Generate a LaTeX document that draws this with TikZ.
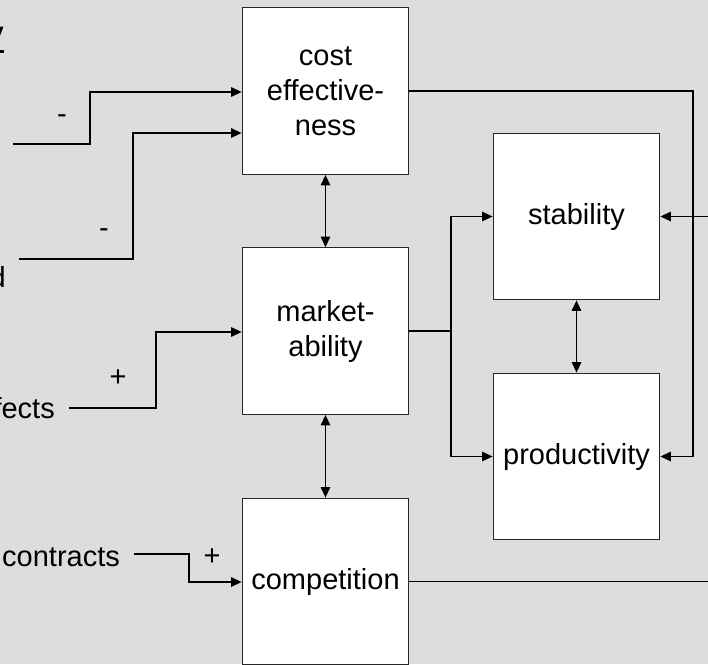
\documentclass[tikz,border=0pt]{standalone}
\usepackage{fontspec}
\setmainfont{Liberation Sans}
\usetikzlibrary{arrows.meta}
\definecolor{bg}{RGB}{221,221,221}
\begin{document}
\begin{tikzpicture}[x=1pt,y=-1pt,
  box/.style={draw=black!85, fill=white, line width=1.3pt, minimum width=166.5pt, minimum height=166.5pt, align=center, inner sep=0pt, font=\fontsize{29}{35}\selectfont},
  lbl/.style={inner sep=0pt, font=\fontsize{29}{35}\selectfont},
  conn/.style={line width=1.3pt, draw=black},
  arr/.style={conn, -{Triangle[length=10.5pt,width=9.5pt]}},
  arr2/.style={conn, {Triangle[length=10.5pt,width=9.5pt]}-{Triangle[length=10.5pt,width=9.5pt]}}]
\useasboundingbox (0,0) rectangle (708,664);
\clip (0,0) rectangle (708,664);
\fill[bg] (0,0) rectangle (708,664);

% boxes
\node[box] (cost)   at (325.5,91)    {cost\\effective-\\ness};
\node[box] (market) at (325.5,331)   {market-\\ability};
\node[box] (comp)   at (325.5,581.5) {competition};
\node[box] (stab)   at (576.5,216.5) {stability};
\node[box] (prod)   at (576.5,456.5) {productivity};

% partly visible texts at the left edge
\node[lbl, anchor=base east, font=\fontsize{29}{35}\selectfont\bfseries] (ttl) at (4,42) {y};
\draw[line width=3pt] ([yshift=-9.5pt]ttl.base west) -- ([yshift=-9.5pt]ttl.base east);
\node[lbl, anchor=base east] (tD) at (6,287) {d};
\node[lbl, anchor=base east] (tE) at (55,418) {effects};
\node[lbl, anchor=base west] (tC) at (2,566) {contracts};

% input connectors
\coordinate (in1) at (13,144);
\coordinate (k1) at (90,92);
\coordinate (in2) at (19,259);
\coordinate (k2) at (133,133);
\coordinate (in3) at (69,408);
\coordinate (k3) at (156,332);
\coordinate (in4) at (134,554);
\coordinate (k4) at (189,582);

\draw[arr] (in1) -| (k1) -- (cost.west |- k1);
\draw[arr] (in2) -| (k2) -- (cost.west |- k2);
\draw[arr] (in3) -| (k3) -- (market.west |- k3);
\draw[arr] (in4) -| (k4) -- (comp.west |- k4);

\node[lbl] (s1) at (62,119) {-};
\node[lbl] (s2) at (104,233) {-};
\node[lbl] (s3) at (118,378) {+};
\node[lbl] (s4) at (212,557) {+};

% vertical two-way connectors
\draw[arr2] (cost.south) -- (market.north);
\draw[arr2] (market.south) -- (comp.north);
\draw[arr2] (stab.south) -- (prod.north);

% marketability to stability and productivity
\coordinate (split) at (451,331);
\draw[conn] (market.east) -- (split);
\draw[arr] (split) |- (stab.west);
\draw[arr] (split) |- (prod.west);

% cost effectiveness to productivity
\coordinate (rr) at (693,0);
\draw[arr] (cost.east) -- (cost.east -| rr) |- (prod.east);

% competition to stability (via the right edge)
\coordinate (far) at (730,0);
\draw[arr] (comp.east) -- (comp.east -| far) |- (stab.east);
\end{tikzpicture}
\end{document}
